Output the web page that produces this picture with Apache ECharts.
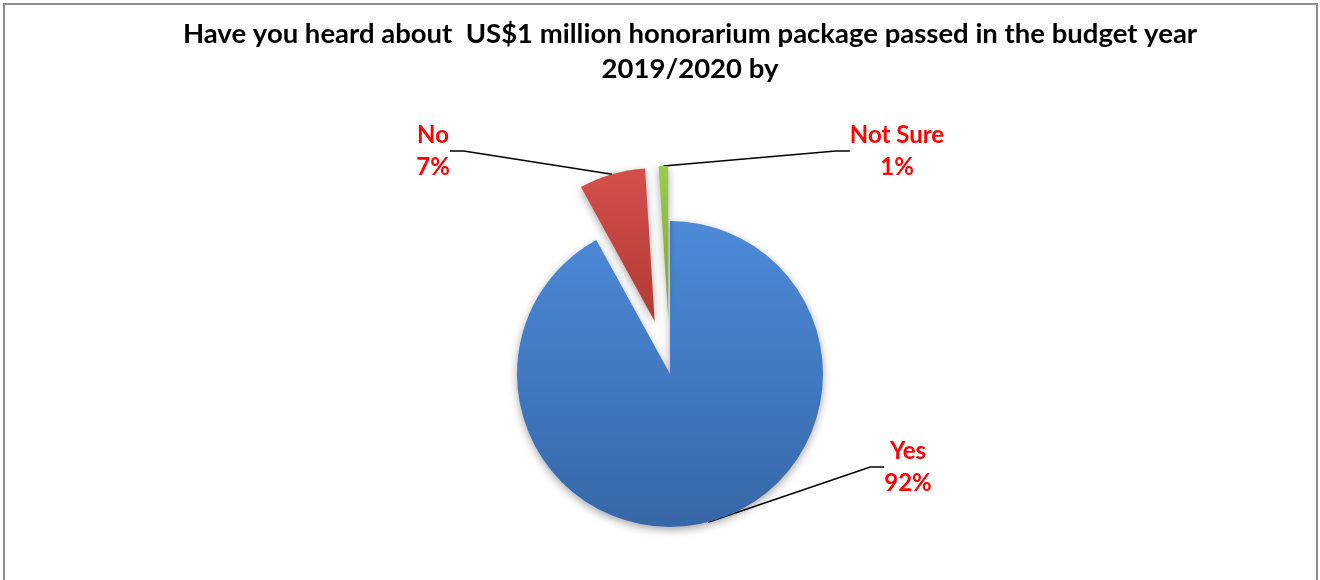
<!DOCTYPE html>
<html>
<head>
<meta charset="utf-8">
<script src="https://cdn.jsdelivr.net/npm/echarts@6/dist/echarts.min.js"></script>
<style>
  body { margin: 0; background: #fff; overflow: hidden; }
  .frame { position: absolute; left: 3px; top: 3px; width: 1311px; height: 640px; border: 2px solid #8c8c8c; }
  #chart { position: absolute; left: 0; top: 0; width: 1320px; height: 580px; }
</style>
</head>
<body>
<div class="frame"></div>
<div id="chart"></div>
<script>
// answers and their share of respondents (%)
const categories = ['Yes', 'No', 'Not Sure'];
const values = [92, 7, 1];
const exploded = [false, true, true];

const sliceColors = [
  ['#4d8ad8', '#3667a8'],
  ['#d44f4a', '#b03a35'],
  ['#9ccc4c', '#7aa335']
];
// where each label sits (px)
const labelSpots = [[908, 467], [433, 151], [897, 151]];

const CX = 670, CY = 374, R = 153, EXPLODE = 55;

const chart = echarts.init(document.getElementById('chart'));

// angle of each slice's middle, measured clockwise from 12 o'clock
const total = values.reduce((a, b) => a + b, 0);
let acc = 0;
const midAngles = values.map(v => {
  const mid = (acc + v / 2) / total * Math.PI * 2;
  acc += v;
  return mid;
});

// one pie per slice so each can be pulled out on its own
const series = categories.map((cat, k) => {
  const off = exploded[k] ? EXPLODE : 0;
  return {
    type: 'pie',
    name: cat,
    center: [CX + Math.sin(midAngles[k]) * off, CY - Math.cos(midAngles[k]) * off],
    radius: R,
    startAngle: 90,
    clockwise: true,
    silent: true,
    percentPrecision: 0,
    emphasis: { disabled: true },
    labelLine: {
      show: true,
      length: 10,
      length2: 14,
      lineStyle: { color: '#000', width: 1.5 }
    },
    labelLayout: function (params) {
      const p = labelSpots[params.dataIndex];
      return { x: p[0], y: p[1], align: 'center', verticalAlign: 'middle' };
    },
    data: categories.map((name, i) => ({
      name: name,
      value: values[i],
      itemStyle: i === k ? {
        color: new echarts.graphic.LinearGradient(0, 0, 0, 1, [
          { offset: 0, color: sliceColors[i][0] },
          { offset: 1, color: sliceColors[i][1] }
        ]),
        shadowBlur: 8,
        shadowOffsetY: 3,
        shadowColor: 'rgba(0,0,0,0.35)'
      } : { color: 'rgba(0,0,0,0)' },
      label: i === k ? {
        show: true,
        formatter: '{b}\n{d}%',
        color: '#ff0000',
        fontFamily: 'Lato',
        fontWeight: 'bold',
        fontSize: 24,
        lineHeight: 32
      } : { show: false },
      labelLine: { show: i === k }
    }))
  };
});

const option = {
  animation: false,
  title: {
    text: 'Have you heard about  US$1 million honorarium package passed in the budget year\n2019/2020 by',
    left: 690,
    top: 17,
    padding: 0,
    textAlign: 'center',
    textStyle: {
      fontFamily: 'Lato',
      fontWeight: 'bold',
      fontSize: 27.5,
      lineHeight: 35,
      color: '#000'
    }
  },
  series: series
};

chart.setOption(option);
</script>
</body>
</html>
